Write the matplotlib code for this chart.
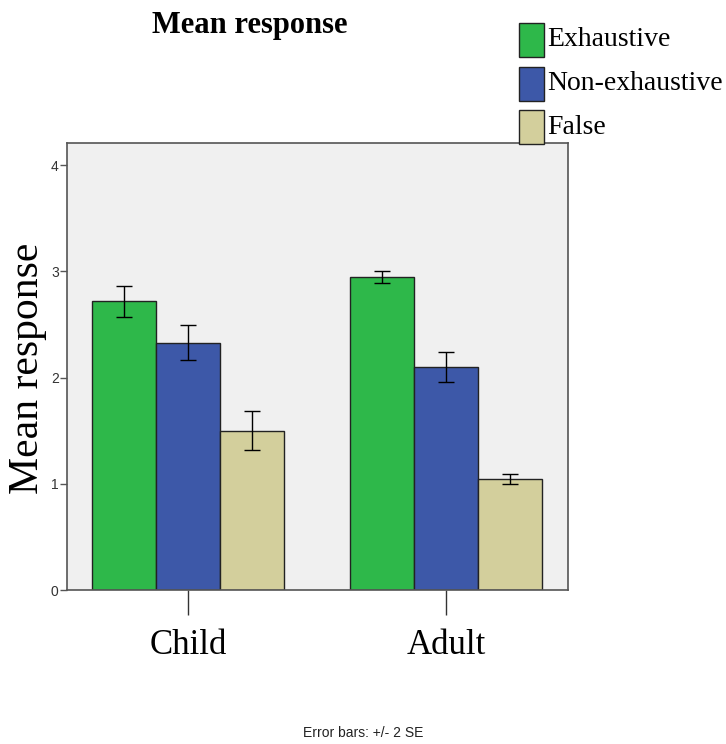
"""
Grafico de barras com media das respostas por grupo (Child / Adult)
e tipo de resposta, com barras de erro de +/- 2 SE.
"""

import matplotlib

matplotlib.use("Agg")

import matplotlib.pyplot as plt
import numpy as np
from matplotlib.patches import Rectangle

grupos = ["Child", "Adult"]
condicoes = ["Exhaustive", "Non-exhaustive", "False"]
cores = ["#2eb84a", "#3d58a8", "#d3cf9c"]

# medias (linhas = condicao, colunas = grupo)
medias = {
    "Exhaustive": [2.72, 2.95],
    "Non-exhaustive": [2.33, 2.10],
    "False": [1.50, 1.045],
}
# meia-altura das barras de erro (2 SE)
erros = {
    "Exhaustive": [0.145, 0.055],
    "Non-exhaustive": [0.165, 0.145],
    "False": [0.185, 0.05],
}
yticks = [0, 1, 2, 3, 4]

SERIF = ["Liberation Serif", "DejaVu Serif"]
SANS = ["Liberation Sans", "DejaVu Sans"]


def desenhar(arquivo_saida: str) -> None:
    fig = plt.figure(figsize=(7.26, 7.44), dpi=100)
    ax = fig.add_axes([67 / 726, 154 / 744, 501 / 726, 447 / 744])
    ax.set_facecolor("#f0f0f0")

    x = np.arange(len(grupos))
    largura = 0.248
    for i, cond in enumerate(condicoes):
        pos = x + (i - 1) * largura
        ax.bar(
            pos,
            medias[cond],
            width=largura,
            color=cores[i],
            edgecolor="#222222",
            linewidth=1.0,
            zorder=2,
        )
        ax.errorbar(
            pos,
            medias[cond],
            yerr=erros[cond],
            fmt="none",
            ecolor="black",
            elinewidth=1.0,
            capsize=5.8,
            capthick=1.0,
            zorder=3,
        )

    ax.set_xlim(-0.469, 1.473)
    ax.set_ylim(0, 4.21)
    ax.set_yticks(yticks)
    ax.set_yticklabels([str(v) for v in yticks], family=SANS, fontsize=10, color="#333333")
    ax.tick_params(axis="y", direction="out", length=5, width=1, color="#555555", pad=1)
    ax.set_xticks(x)
    ax.set_xticklabels(grupos, family=SERIF, fontsize=25)
    ax.tick_params(axis="x", direction="out", length=18, width=1, color="#333333", pad=10)

    for lado in ax.spines.values():
        lado.set_color("#555555")
        lado.set_linewidth(1.2)

    fig.text(28 / 726, 1 - 368 / 744, "Mean response", rotation=90,
             family=SERIF, fontsize=30, ha="center", va="center")
    fig.text(250 / 726, 1 - 25 / 744, "Mean response", family=SERIF,
             fontsize=22, fontweight="bold", ha="center", va="center")
    fig.text(363 / 726, 1 - 733 / 744, "Error bars: +/- 2 SE", family=SANS,
             fontsize=10, ha="center", va="center", color="#222222")

    # legenda feita a mao no canto superior direito
    y_itens = [40, 84, 127]
    for cond, cor, yc in zip(condicoes, cores, y_itens):
        fig.add_artist(
            Rectangle(
                (519 / 726, 1 - (yc + 17) / 744),
                25 / 726,
                34 / 744,
                facecolor=cor,
                edgecolor="#222222",
                linewidth=1.0,
                transform=fig.transFigure,
            )
        )
        fig.text(547 / 726, 1 - yc / 744, cond, family=SERIF, fontsize=20,
                 ha="left", va="center")

    fig.savefig(arquivo_saida, dpi=100)
    plt.close(fig)


def main() -> None:
    desenhar("out.png")


if __name__ == "__main__":
    main()
